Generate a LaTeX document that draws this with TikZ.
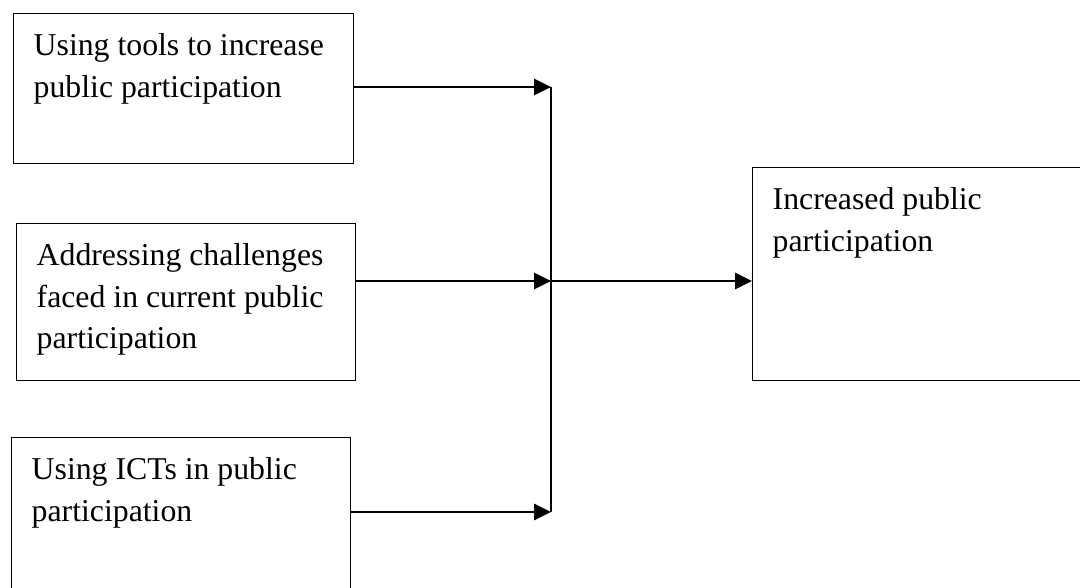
\documentclass[tikz,border=0pt]{standalone}
\usepackage{fontspec}
\setmainfont{Liberation Serif}
\usetikzlibrary{arrows.meta}

\begin{document}
\begin{tikzpicture}[
    box/.style={draw, line width=1pt, anchor=north west, inner sep=0.5cm},
    link/.style={line width=1.6pt, -{Triangle[length=0.42cm, width=0.4cm]}},
    font=\fontsize{22.6}{29.5}\selectfont]
    \useasboundingbox (0,0) rectangle (27,-14.7);
    % input boxes
    \node[box] (tools) at (0.325,-0.325) {\parbox[t][2.75cm][t]{7.5cm}{\raggedright Using tools to increase\\ public participation}};
    \node[box] (chall) at (0.4,-5.575) {\parbox[t][2.925cm][t]{7.475cm}{\raggedright Addressing challenges\\ faced in current public\\ participation}};
    \node[box] (icts) at (0.275,-10.925) {\parbox[t][3.075cm][t]{7.475cm}{\raggedright Using ICTs in public\\ participation}};
    % outcome box
    \node[box] (out) at (18.8,-4.175) {\parbox[t][4.325cm][t]{7.45cm}{\raggedright Increased public\\ participation}};
    % joining points
    \coordinate (j1) at (13.775,-2.175);
    \coordinate (j2) at (13.775,-7.025);
    \coordinate (j3) at (13.775,-12.8);
    \draw[line width=1.6pt] (j1) -- (j3);
    \draw[link] (tools.east |- j1) -- (j1);
    \draw[link] (chall.east |- j2) -- (j2);
    \draw[link] (icts.east |- j3) -- (j3);
    \draw[link] (j2) -- (out.west |- j2);
\end{tikzpicture}
\end{document}
